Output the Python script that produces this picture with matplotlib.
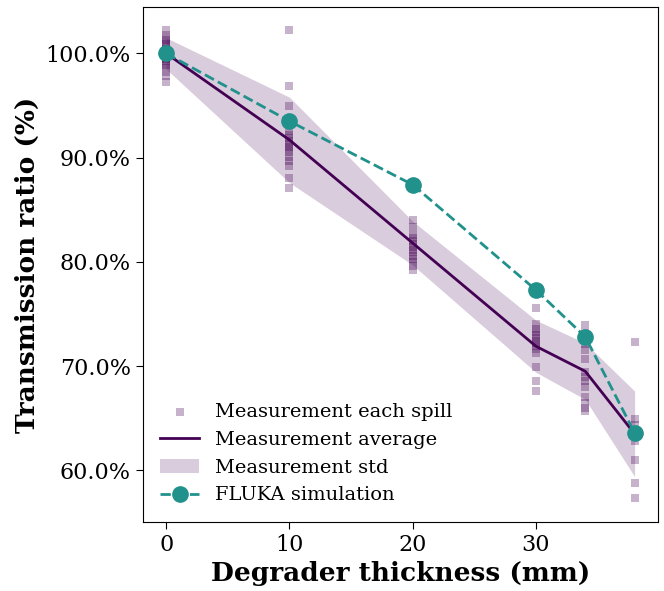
import numpy as np
import matplotlib
matplotlib.use("Agg")
import matplotlib.pyplot as plt
from matplotlib.ticker import PercentFormatter

thickness = [0, 10, 20, 30, 34, 38]

# transmission of every spill (%)
spills = {
    0: [102.2, 101.8, 101.3, 101.0, 100.7, 100.4, 100.2, 100.0, 99.8, 99.6,
        99.3, 99.0, 98.6, 98.2, 97.8, 97.3, 101.5, 100.9, 99.5, 98.9],
    10: [102.2, 96.9, 95.0, 93.5, 92.6, 92.2, 91.9, 91.6, 91.3, 91.0,
         90.8, 90.5, 90.1, 89.7, 89.2, 88.0, 87.1],
    20: [84.0, 83.3, 82.6, 82.3, 82.0, 81.7, 81.4, 81.1, 80.9, 80.6,
         80.3, 80.0, 79.6, 79.2],
    30: [75.6, 74.0, 73.6, 73.3, 73.0, 72.7, 72.4, 72.2, 71.9, 71.6,
         71.3, 69.9, 68.6, 67.6],
    34: [73.9, 73.2, 72.6, 72.1, 71.5, 70.7, 69.4, 69.0, 68.6, 68.0,
         67.0, 66.5, 66.0, 65.7],
    38: [72.3, 64.9, 64.3, 63.3, 62.8, 61.0, 58.8, 57.3],
}
meas_avg = [100.0, 91.7, 81.8, 71.9, 69.5, 63.5]
meas_std = [1.5, 4.1, 2.1, 2.5, 2.7, 4.1]
fluka = [100.0, 93.5, 87.4, 77.3, 72.8, 63.6]

purple = "#440154"
teal = "#21918c"

plt.rcParams["font.family"] = "DejaVu Serif"

fig = plt.figure(figsize=(6.64, 5.91), dpi=100)
ax = fig.add_axes([0.215, 0.117, 0.776, 0.871])

xs, ys = [], []
for t in thickness:
    for v in spills[t]:
        xs.append(t)
        ys.append(v / 100)
ax.scatter(xs, ys, marker="s", s=30, color=purple, alpha=0.3, linewidths=0,
           label="Measurement each spill", zorder=2)

avg = np.array(meas_avg) / 100
std = np.array(meas_std) / 100
ax.plot(thickness, avg, color=purple, lw=2, label="Measurement average", zorder=3)
ax.fill_between(thickness, avg - std, avg + std, color=purple, alpha=0.2,
                linewidth=0, label="Measurement std", zorder=1)
ax.plot(thickness, np.array(fluka) / 100, "o--", color=teal, lw=2, ms=11,
        label="FLUKA simulation", zorder=4)

ax.yaxis.set_major_formatter(PercentFormatter(1.0, decimals=1))
ax.set_xticks([0, 10, 20, 30])
ax.set_yticks([0.6, 0.7, 0.8, 0.9, 1.0])
ax.tick_params(labelsize=16, length=5)
ax.set_xlabel("Degrader thickness (mm)", fontsize=19, fontweight="bold")
ax.set_ylabel("Transmission ratio (%)", fontsize=19, fontweight="bold")
ax.legend(loc="lower left", frameon=False, fontsize=14)

fig.savefig("out.png", dpi=100)
